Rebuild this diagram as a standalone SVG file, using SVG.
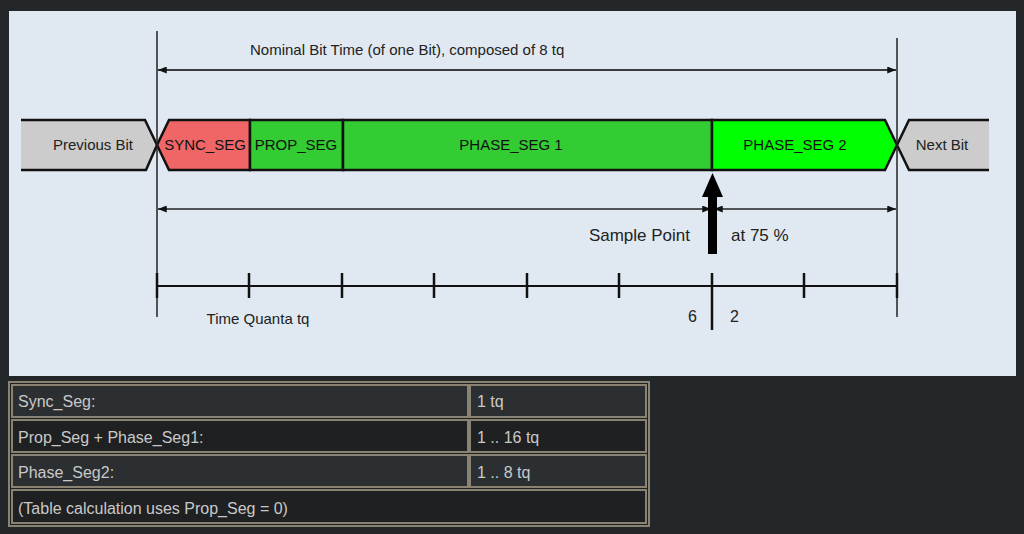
<svg xmlns="http://www.w3.org/2000/svg" width="1024" height="534" viewBox="0 0 1024 534">
<style>
  .t { font-family: "Liberation Sans", Arial, sans-serif; fill: #222; }
  .seg { font-size: 15px; text-anchor: middle; fill: #111; }
  .bar { stroke: #111; stroke-width: 2.5; stroke-linejoin: miter; }
  .thin { stroke: #222; stroke-width: 1.5; fill: none; }
  .dim { stroke: #3a3d40; stroke-width: 2; fill: none; }
  .tick { stroke: #111; stroke-width: 2.5; }
  .cellA { fill: #2c2f32; stroke: #8a8273; stroke-width: 2; }
  .cellB { fill: #1f2022; stroke: #8a8273; stroke-width: 2; }
  .ct { font-family: "Liberation Sans", Arial, sans-serif; font-size: 16px; fill: #c9c9c9; }
</style>
<defs>
  <marker id="ah" viewBox="0 0 10 8" refX="10" refY="4" markerWidth="9" markerHeight="7" markerUnits="userSpaceOnUse" orient="auto-start-reverse">
    <path d="M0,0 L10,4 L0,8 Z" fill="#111"/>
  </marker>
</defs>
<rect x="0" y="0" width="1024" height="534" fill="#24272a"/>
<rect x="9" y="11" width="1007" height="365" fill="#e0e9f1"/>

<g id="previous-bit">
  <path d="M21,120 L145,120 L157,145 L146,170 L21,170 Z" fill="#cccccc"/>
  <path d="M21,120 L145,120 L157,145 L146,170 L21,170" class="bar" fill="none"/>
  <text class="t" x="93" y="150" font-size="15" text-anchor="middle">Previous Bit</text>
</g>
<g id="sync-seg">
  <path d="M157,145 L169,120 L250,120 L250,170 L169,170 Z" fill="#f06666" class="bar"/>
  <text class="t seg" x="205" y="150">SYNC_SEG</text>
</g>
<g id="prop-seg">
  <rect x="250" y="120" width="93" height="50" fill="#33cc33" class="bar"/>
  <text class="t seg" x="296" y="150">PROP_SEG</text>
</g>
<g id="phase-seg1">
  <rect x="343" y="120" width="369" height="50" fill="#33cc33" class="bar"/>
  <text class="t seg" x="511" y="150">PHASE_SEG 1</text>
</g>
<g id="phase-seg2">
  <path d="M712,120 L885,120 L897,145 L885,170 L712,170 Z" fill="#00ff00" class="bar"/>
  <text class="t seg" x="795" y="150">PHASE_SEG 2</text>
</g>
<g id="next-bit">
  <path d="M897,145 L909,120 L989,120 L989,170 L909,170 Z" fill="#cccccc"/>
  <path d="M989,120 L909,120 L897,145 L909,170 L989,170" class="bar" fill="none"/>
  <text class="t" x="942" y="150" font-size="15" text-anchor="middle">Next Bit</text>
</g>

<g id="connectors">
  <line x1="157" y1="31" x2="157" y2="317" class="thin"/>
  <line x1="897" y1="38" x2="897" y2="317" class="thin"/>
  <line x1="158" y1="70" x2="896" y2="70" class="dim" marker-start="url(#ah)" marker-end="url(#ah)"/>
  <line x1="158" y1="209" x2="711" y2="209" class="thin" marker-start="url(#ah)" marker-end="url(#ah)"/>
  <line x1="714" y1="209" x2="896" y2="209" class="thin" marker-start="url(#ah)" marker-end="url(#ah)"/>
  <line x1="157" y1="286" x2="897" y2="286" stroke="#111" stroke-width="2"/>
  <line x1="157" y1="273" x2="157" y2="298" class="tick"/>
  <line x1="249" y1="273" x2="249" y2="298" class="tick"/>
  <line x1="342" y1="273" x2="342" y2="298" class="tick"/>
  <line x1="434" y1="273" x2="434" y2="298" class="tick"/>
  <line x1="527" y1="273" x2="527" y2="298" class="tick"/>
  <line x1="619" y1="273" x2="619" y2="298" class="tick"/>
  <line x1="712" y1="273" x2="712" y2="330" class="tick"/>
  <line x1="804" y1="273" x2="804" y2="298" class="tick"/>
  <line x1="897" y1="273" x2="897" y2="298" class="tick"/>
</g>

<g id="sample-point">
  <rect x="708" y="194" width="9" height="60" fill="#000"/>
  <path d="M712.5,173 L723,197 L702,197 Z" fill="#000"/>
  <text class="t" x="690" y="241" font-size="17" text-anchor="end">Sample Point</text>
  <text class="t" x="731" y="241" font-size="17">at 75 %</text>
</g>

<g id="labels">
  <text class="t" x="250" y="55" font-size="15">Nominal Bit Time (of one Bit), composed of 8 tq</text>
  <text class="t" x="258" y="324" font-size="15" text-anchor="middle">Time Quanta tq</text>
  <text class="t" x="697" y="322" font-size="16" text-anchor="end">6</text>
  <text class="t" x="730" y="322" font-size="16">2</text>
</g>

<g id="table">
  <rect x="9" y="382" width="640" height="144" fill="#1f2022" stroke="#8a8273" stroke-width="2"/>
  <rect x="12" y="385" width="456" height="32" class="cellA"/>
  <rect x="470" y="385" width="176" height="32" class="cellA"/>
  <rect x="12" y="420" width="456" height="32" class="cellB"/>
  <rect x="470" y="420" width="176" height="32" class="cellB"/>
  <rect x="12" y="455" width="456" height="32" class="cellA"/>
  <rect x="470" y="455" width="176" height="32" class="cellA"/>
  <rect x="12" y="490" width="634" height="33" class="cellB"/>
  <text class="ct" x="18" y="407">Sync_Seg:</text>
  <text class="ct" x="477" y="407">1 tq</text>
  <text class="ct" x="18" y="443">Prop_Seg + Phase_Seg1:</text>
  <text class="ct" x="477" y="443">1 .. 16 tq</text>
  <text class="ct" x="18" y="478">Phase_Seg2:</text>
  <text class="ct" x="477" y="478">1 .. 8 tq</text>
  <text class="ct" x="18" y="514">(Table calculation uses Prop_Seg = 0)</text>
</g>
</svg>
